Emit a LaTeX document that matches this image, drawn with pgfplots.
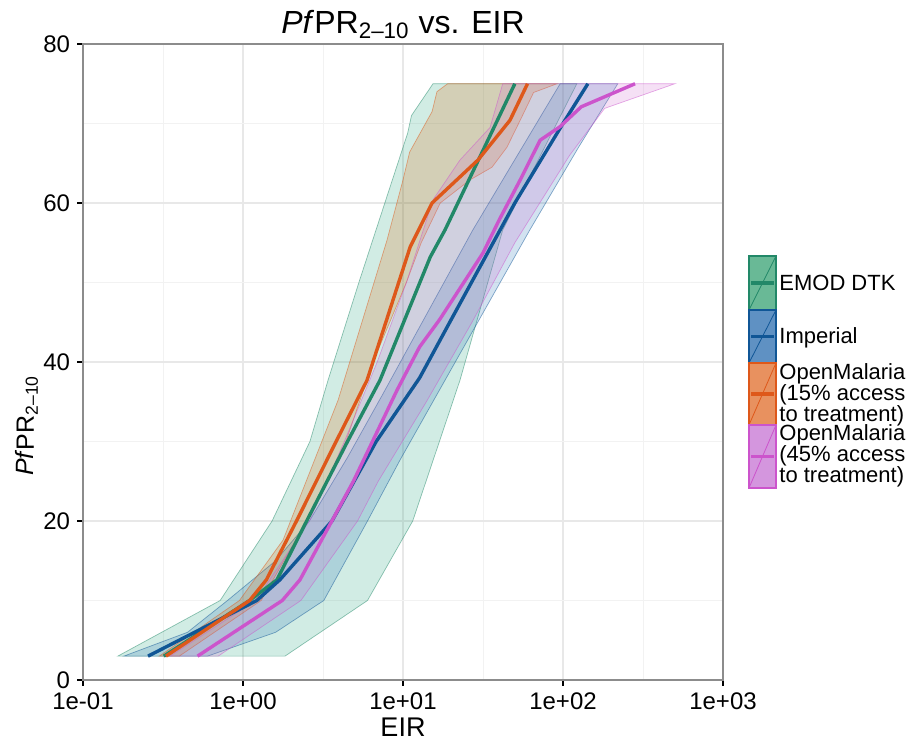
\documentclass[border=0pt]{standalone}
\usepackage{fontspec}
\setmainfont{Liberation Sans}
\usepackage{pgfplots}
\pgfplotsset{compat=1.18}
\definecolor{emodL}{RGB}{34,136,104}
\definecolor{emodF}{RGB}{27,158,119}
\definecolor{impL}{RGB}{16,86,150}
\definecolor{impF}{RGB}{31,110,180}
\definecolor{omaL}{RGB}{222,88,26}
\definecolor{omaF}{RGB}{217,95,2}
\definecolor{ombL}{RGB}{204,84,204}
\definecolor{ombF}{RGB}{204,102,204}
\definecolor{emodK}{RGB}{105,185,150}
\definecolor{impK}{RGB}{95,145,195}
\definecolor{omaK}{RGB}{232,145,95}
\definecolor{ombK}{RGB}{212,150,222}
\newcommand{\legkey}[4]{%
  \fill[#3] (333,#1) rectangle (346.5,#2);
  \draw[#4, line width=0.4pt] (333,#1) -- (346.5,#2);
  \draw[#4, line width=1.6pt] (334,{(#1+#2)/2}) -- (345.5,{(#1+#2)/2});
  \draw[#4, line width=0.8pt] (333,#1) rectangle (346.5,#2);
}
\begin{document}
\begin{tikzpicture}[x=1pt,y=1pt]
\begin{axis}[
  at={(0,0)}, anchor=south west,
  scale only axis, width=320pt, height=318pt,
  xmode=log, xmin=0.1, xmax=1000, ymin=0, ymax=80,
  xtick={0.1,1,10,100,1000}, xticklabels={1e-01,1e+00,1e+01,1e+02,1e+03},
  ytick={0,20,40,60,80}, yticklabels={0,20,40,60,80},
  minor xtick={0.316228,3.16228,31.6228,316.228},
  minor ytick={10,30,50,70},
  grid=both,
  major grid style={draw=black!9, line width=0.6pt},
  minor grid style={draw=black!5, line width=0.4pt},
  minor tick length=0pt,
  major tick length=3pt,
  tick align=outside,
  tick pos=left,
  tick style={black, line width=0.7pt},
  axis line style={black!45, line width=0.6pt},
  tick label style={font=\fontsize{12}{12}\selectfont},
  xlabel={EIR},
  ylabel={\textit{Pf}PR\textsubscript{2--10}},
  title={\textit{Pf}PR\textsubscript{2--10} vs. EIR},
  xlabel style={at={(axis description cs:0.5,-0.074)}, anchor=center, font=\fontsize{13.5}{14}\selectfont},
  ylabel style={at={(axis description cs:-0.0875,0.40)}, anchor=center, font=\fontsize{12.5}{14}\selectfont},
  title style={at={(axis description cs:0.5,1.012)}, anchor=center, font=\fontsize{16}{18}\selectfont},
]
% ---- bands ----
\addplot[fill=emodF, fill opacity=0.2, draw=emodL, draw opacity=0.5, line width=0.35pt]
 coordinates {(0.165,3)(0.72,10)(1.52,20)(2.62,30)(3.40,37.7)(5.3,50)(7.7,60)(10.7,68.8)(11.3,71)(15.4,75)
 (122,75)(42,56.6)(22.7,37.7)(11.5,20)(6.0,10)(1.83,3)} -- cycle;
\addplot[fill=impF, fill opacity=0.2, draw=impL, draw opacity=0.5, line width=0.35pt]
 coordinates {(0.18,3)(0.45,6)(0.8,10)(1.6,15)(2.6,20)(4.5,28)(7.5,36)(27.3,56.6)(96,75)
 (220,75)(125,67)(62,56.6)(18.3,37.7)(9.6,27.7)(6.0,20)(3.2,10)(1.6,6)(0.6,3)} -- cycle;
\addplot[fill=omaF, fill opacity=0.2, draw=omaL, draw opacity=0.5, line width=0.35pt]
 coordinates {(0.3,3)(0.95,10)(1.78,17.6)(3.93,35.2)(7.94,55.3)(10.0,62.9)(11.0,66.4)(15.2,71.5)(16.3,74)(19,75)
 (91.7,75)(65.5,73.9)(54,70.4)(44.6,67)(36,64.5)(26.2,62.9)(17.1,60)(13,55)(10.5,50)(6.5,40)(4.4,30)(2.5,20)(1.3,10)(0.4,3)} -- cycle;
\addplot[fill=ombF, fill opacity=0.2, draw=ombL, draw opacity=0.5, line width=0.35pt]
 coordinates {(0.35,3)(1.2,10)(2.6,20)(4.3,30)(6.9,40)(10.5,50)(15.4,60.4)(22.7,65.4)(35,69.5)(42,75)
 (500,75)(236,72.7)(182,71.9)(110,66)(50,55)(27,45)(14,35)(7,25)(5.2,20)(2.3,10)(0.7,3)} -- cycle;
% ---- lines ----
\addplot[emodL, line width=1.7pt]
 coordinates {(0.32,3)(1.1,10)(1.63,12.6)(2.5,20)(4.5,30)(7.18,37.7)(14.8,53.2)(18.3,56.6)(50,75)};
\addplot[impL, line width=1.7pt]
 coordinates {(0.255,3)(1.22,10)(1.7,12.6)(3.6,20)(6.8,30)(12.7,38)(19.6,45)(50,60)(100,70)(143,75)};
\addplot[omaL, line width=1.7pt]
 coordinates {(0.33,3)(1.1,10)(1.4,12.6)(2.16,20)(3.82,30)(5.96,37.7)(7.9,45.3)(11.1,54.5)(15.2,60)(29.4,65.4)(46.6,70.4)(60,75)};
\addplot[ombL, line width=1.7pt]
 coordinates {(0.52,3)(1.76,10)(2.27,12.6)(4.9,25)(9.2,36.5)(12.7,41.9)(16.9,45.3)(31.6,53.7)(40,57.9)(54,62.9)(72,67.9)(95.8,69.6)(130,72.1)(282,75)};
\end{axis}
% ---- legend ----
\legkey{185}{212}{emodK}{emodL}
\legkey{158.5}{185}{impK}{impL}
\legkey{127.5}{158.5}{omaK}{omaL}
\legkey{96}{127.5}{ombK}{ombL}
\begin{scope}[every node/.style={anchor=west, align=left, inner sep=0pt, font=\fontsize{11}{10.5}\selectfont}]
\node at (348,198.5) {EMOD DTK};
\node at (348,171) {Imperial};
\node at (348,142.5) {OpenMalaria\\(15\% access\\to treatment)};
\node at (348,112) {OpenMalaria\\(45\% access\\to treatment)};
\end{scope}
\pgfresetboundingbox
\useasboundingbox (-41.5,-31) rectangle (412,340);
\end{tikzpicture}
\end{document}
